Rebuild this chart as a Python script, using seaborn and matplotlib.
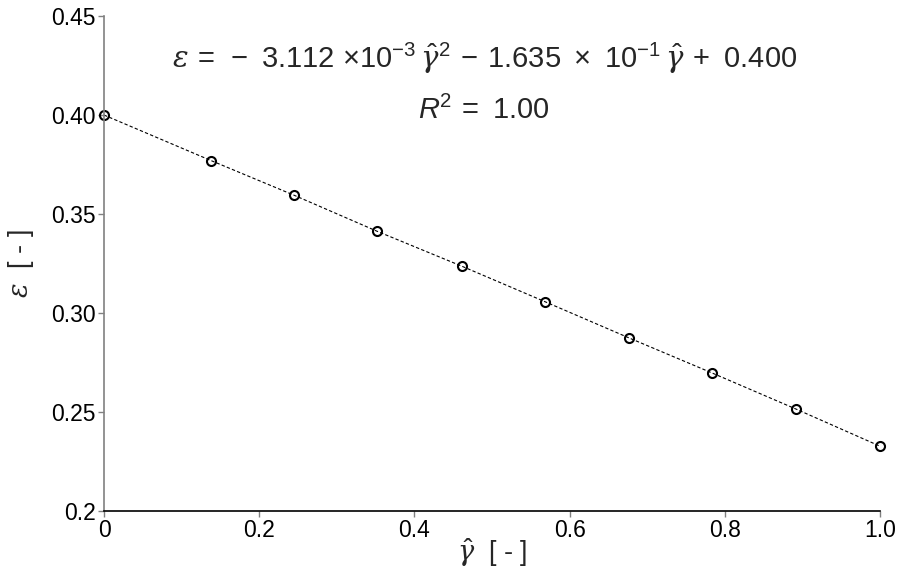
import seaborn as sns
import matplotlib.pyplot as plt
import pandas as pd

gamma_hat = [0.0, 0.138, 0.245, 0.352, 0.461, 0.568, 0.677, 0.784, 0.892, 1.0]
epsilon = [0.400, 0.377, 0.3595, 0.3413, 0.3237, 0.3058, 0.2874, 0.2697, 0.2515, 0.2328]
x_ticks = [0, 0.2, 0.4, 0.6, 0.8, 1.0]
x_ticklabels = ['0', '0.2', '0.4', '0.6', '0.8', '1.0']
y_ticks = [0.2, 0.25, 0.30, 0.35, 0.40, 0.45]
y_ticklabels = ['0.2', '0.25', '0.30', '0.35', '0.40', '0.45']

df = pd.DataFrame({'gamma_hat': gamma_hat, 'epsilon': epsilon})

sns.set_style("white")
plt.rcParams['font.family'] = ['Liberation Sans', 'DejaVu Sans']
plt.rcParams['mathtext.fontset'] = 'custom'
plt.rcParams['mathtext.rm'] = 'Liberation Sans'
plt.rcParams['mathtext.it'] = 'DejaVu Serif:italic'
plt.rcParams['mathtext.sf'] = 'Liberation Sans:italic'

fig = plt.figure(figsize=(8.97, 5.73), dpi=100)
ax = fig.add_axes([0.116, 0.108, 0.865, 0.864])

sns.lineplot(data=df, x='gamma_hat', y='epsilon', ax=ax, color='black',
             linewidth=0.8, linestyle=(0, (3, 2)), marker='o',
             markersize=6.5, markerfacecolor='none', markeredgecolor='black',
             markeredgewidth=1.5)

ax.set_xlim(0, 1.0)
ax.set_ylim(0.2, 0.45)
ax.set_xticks(x_ticks)
ax.set_xticklabels(x_ticklabels)
ax.set_yticks(y_ticks)
ax.set_yticklabels(y_ticklabels)
ax.tick_params(axis='both', direction='out', length=4, width=1, color='#808080',
               labelsize=16.5, pad=2, labelcolor='black')
ax.tick_params(bottom=True, left=True)

for s in ['top', 'right']:
    ax.spines[s].set_visible(False)
ax.spines['left'].set_color('#808080')
ax.spines['left'].set_linewidth(1.2)
ax.spines['bottom'].set_color('black')
ax.spines['bottom'].set_linewidth(1.2)
for ln in ax.lines:
    ln.set_clip_on(False)

ax.set_xlabel(r'$\hat{\gamma}$  [ - ]', fontsize=19.5, labelpad=-4)
ax.set_ylabel(r'$\varepsilon$  [ - ]', fontsize=19.5, labelpad=11)

ax.text(0.49, 0.915,
        r'$\varepsilon\,=\,-$ 3.112 $\times$10$^{-3}\,\hat{\gamma}^{2}\,-\,1.635\;\times$ 10$^{-1}\,\hat{\gamma}\,+$ 0.400',
        transform=ax.transAxes, ha='center', va='center', fontsize=21)
ax.text(0.49, 0.81, r'$\mathsf{R}^{2}\,= $ 1.00',
        transform=ax.transAxes, ha='center', va='center', fontsize=21)

plt.savefig('out.png', dpi=100)
